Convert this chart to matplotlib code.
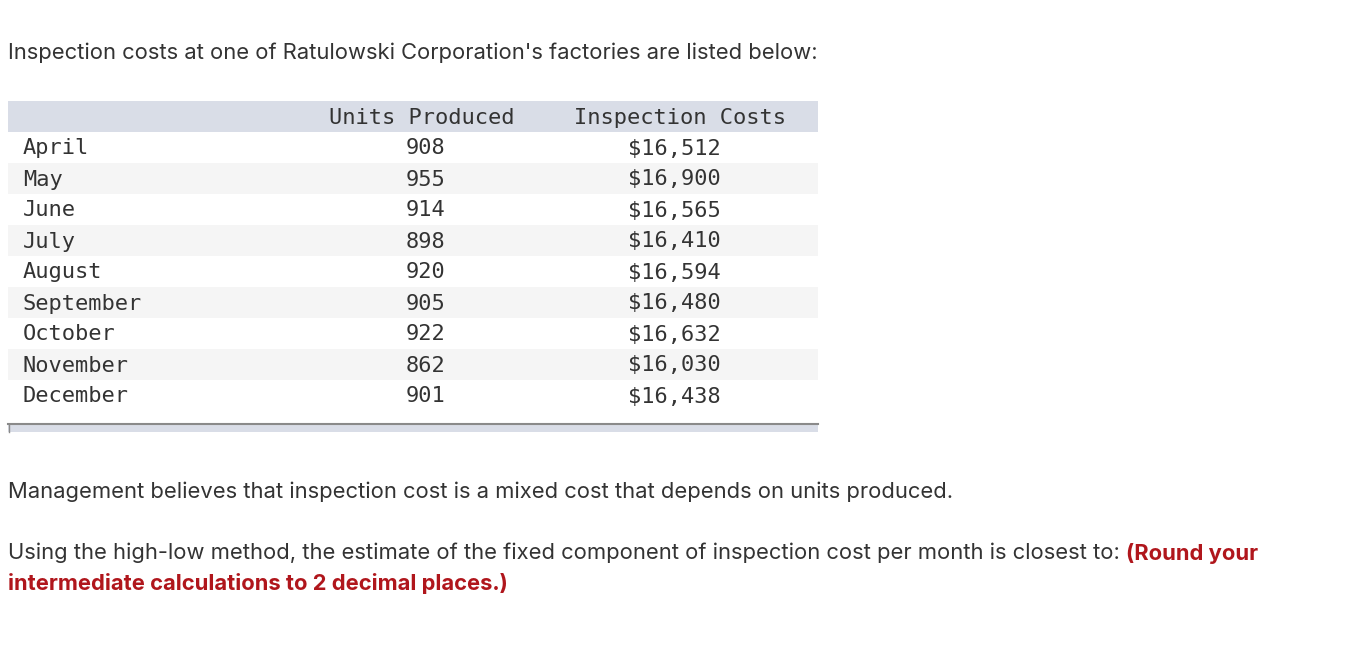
import matplotlib
matplotlib.use("Agg")
import matplotlib.pyplot as plt
from matplotlib.patches import Rectangle

months = ["April", "May", "June", "July", "August", "September", "October", "November", "December"]
units = [908, 955, 914, 898, 920, 905, 922, 862, 901]
costs = [16512, 16900, 16565, 16410, 16594, 16480, 16632, 16030, 16438]
headers = ["Units Produced", "Inspection Costs"]

intro = "Inspection costs at one of Ratulowski Corporation's factories are listed below:"
para2 = "Management believes that inspection cost is a mixed cost that depends on units produced."
para3a = "Using the high-low method, the estimate of the fixed component of inspection cost per month is closest to: "
para3b = "(Round your"
para3c = "intermediate calculations to 2 decimal places.)"

W, H = 1363, 658
fig = plt.figure(figsize=(W / 100, H / 100), dpi=100)
ax = fig.add_axes([0, 0, 1, 1])
ax.set_xlim(0, W)
ax.set_ylim(H, 0)
ax.axis("off")

TXT = "#333333"
RED = "#b0161c"
PF = "Inter"
PS = 15.8
prose = dict(family=PF, fontsize=PS, color=TXT, va="center", ha="left")
mono = dict(family="DejaVu Sans Mono", fontsize=15.8, color="#333333", va="center")

ax.text(8, 53, intro, **prose)

# table
left, right = 8, 818
top = 101
rowh = 31
ax.add_patch(Rectangle((left, top), right - left, rowh, color="#d9dde7", lw=0))
ax.text(422, top + rowh / 2 + 1, headers[0], ha="center", **mono)
ax.text(680, top + rowh / 2 + 1, headers[1], ha="center", **mono)
for i, (m, u, c) in enumerate(zip(months, units, costs)):
    y0 = top + rowh * (i + 1)
    if i % 2 == 1:
        ax.add_patch(Rectangle((left, y0), right - left, rowh, color="#f5f5f5", lw=0))
    yc = y0 + rowh / 2 + 1
    ax.text(23, yc, m, ha="left", **mono)
    ax.text(445, yc, f"{u}", ha="right", **mono)
    ax.text(721, yc, f"${c:,}", ha="right", **mono)

ybot = top + rowh * (len(months) + 1) + 13
ax.add_patch(Rectangle((left, ybot), right - left, 8, color="#d9dde7", lw=0))
ax.plot([left, right], [ybot, ybot], color="#8a8a8a", lw=1.5)
ax.plot([left + 0.5, left + 0.5], [ybot, ybot + 8], color="#8a8a8a", lw=1)

ax.text(8, 492, para2, **prose)
t = ax.text(8, 553, para3a, **prose)
fig.canvas.draw()
r = fig.canvas.get_renderer()
bb = t.get_window_extent(renderer=r)
x_end = bb.x1
ax.text(x_end, 553, para3b, family=PF, fontsize=PS, color=RED, weight="bold", va="center", ha="left")
ax.text(8, 584, para3c, family=PF, fontsize=PS, color=RED, weight="bold", va="center", ha="left")

fig.savefig("out.png", dpi=100, facecolor="white")
